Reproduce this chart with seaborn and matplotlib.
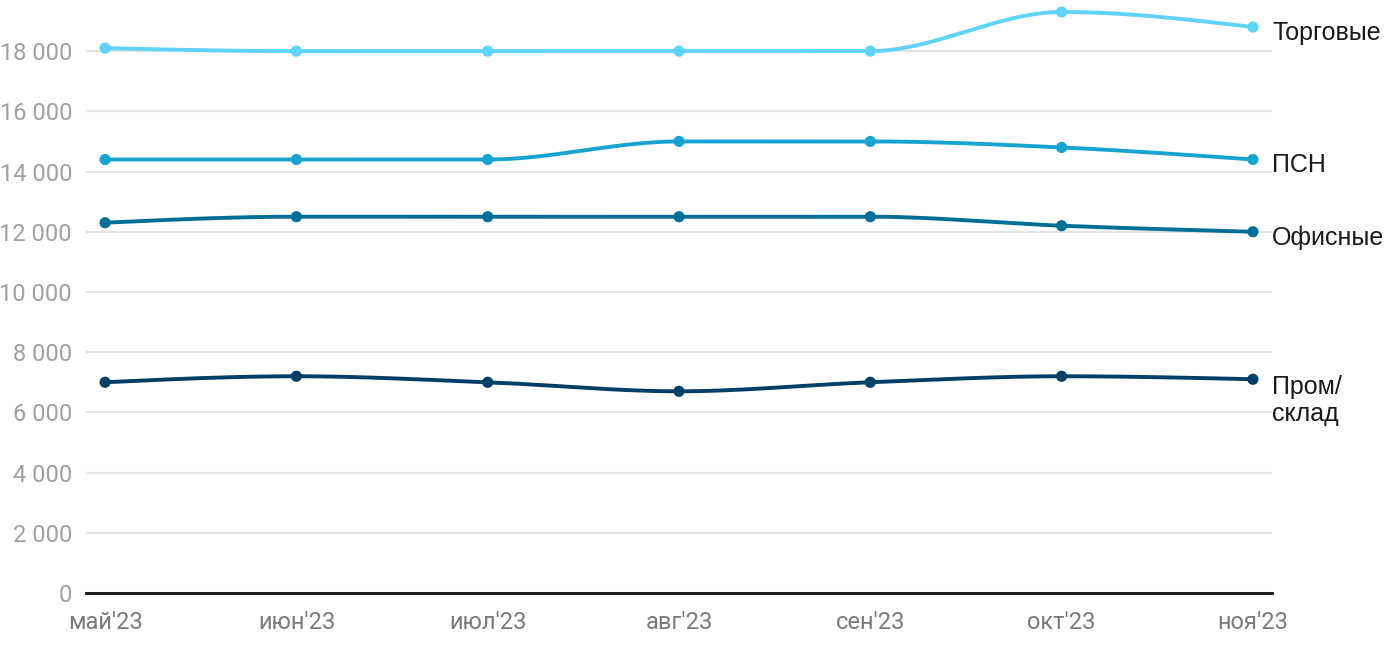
import numpy as np
import pandas as pd
import seaborn as sns
import matplotlib.pyplot as plt
from matplotlib.ticker import FuncFormatter, MultipleLocator

# =========================
#       DATA
# =========================
months = ["май'23", "июн'23", "июл'23", "авг'23", "сен'23", "окт'23", "ноя'23"]
trade = [18100, 18000, 18000, 18000, 18000, 19300, 18800]
psn = [14400, 14400, 14400, 15000, 15000, 14800, 14400]
office = [12300, 12500, 12500, 12500, 12500, 12200, 12000]
industrial = [7000, 7200, 7000, 6700, 7000, 7200, 7100]

series_names = ["Торговые", "ПСН", "Офисные", "Пром/\nсклад"]
series_values = [trade, psn, office, industrial]
series_colors = ["#5fd3fa", "#17a4d1", "#006f98", "#003f66"]


# =========================
#   Monotone smoothing (d3 monotoneX style)
# =========================
def monotone_curve(x, y, n=40):
    x = np.asarray(x, float)
    y = np.asarray(y, float)
    h = np.diff(x)
    s = np.diff(y) / h
    t = np.zeros_like(y)
    for i in range(1, len(y) - 1):
        p = (s[i - 1] * h[i] + s[i] * h[i - 1]) / (h[i - 1] + h[i])
        t[i] = (np.sign(s[i - 1]) + np.sign(s[i])) * min(abs(s[i - 1]), abs(s[i]), 0.5 * abs(p))
    t[0] = (3 * s[0] - t[1]) / 2
    t[-1] = (3 * s[-1] - t[-2]) / 2
    xs, ys = [], []
    for i in range(len(h)):
        u = np.linspace(0, 1, n, endpoint=(i == len(h) - 1))
        h00 = 2 * u**3 - 3 * u**2 + 1
        h10 = u**3 - 2 * u**2 + u
        h01 = -2 * u**3 + 3 * u**2
        h11 = u**3 - u**2
        xs.append(x[i] + u * h[i])
        ys.append(h00 * y[i] + h10 * h[i] * t[i] + h01 * y[i + 1] + h11 * h[i] * t[i + 1])
    return np.concatenate(xs), np.concatenate(ys)


# Long-form tables for seaborn
points = pd.DataFrame({
    "x": np.tile(np.arange(len(months)), len(series_names)),
    "value": np.concatenate(series_values),
    "series": np.repeat(series_names, len(months)),
})

curves = []
for name, vals in zip(series_names, series_values):
    cx, cy = monotone_curve(np.arange(len(months)), vals)
    curves.append(pd.DataFrame({"x": cx, "value": cy, "series": name}))
curves = pd.concat(curves, ignore_index=True)

palette = dict(zip(series_names, series_colors))

# =========================
#       PLOT
# =========================
sns.set_theme(style="white")
plt.rcParams["font.family"] = ["Roboto", "DejaVu Sans"]

fig = plt.figure(figsize=(14, 6.5), dpi=100)
ax = fig.add_axes([0.0614, 0.0877, 0.8472, 0.9031])

sns.lineplot(data=curves, x="x", y="value", hue="series", palette=palette,
             linewidth=2.8, legend=False, ax=ax, sort=False, estimator=None)
sns.scatterplot(data=points, x="x", y="value", hue="series", palette=palette,
                s=65, linewidth=0, legend=False, ax=ax, zorder=5)

ax.set_xlim(-0.1, len(months) - 0.9)
ax.set_ylim(0, 19500)
ax.yaxis.set_major_locator(MultipleLocator(2000))
ax.yaxis.set_major_formatter(FuncFormatter(lambda v, _: f"{v:,.0f}".replace(",", " ")))
ax.set_xticks(range(len(months)))
ax.set_xticklabels(months)
ax.set_xlabel("")
ax.set_ylabel("")

ax.grid(axis="y", color="#e3e3e3", linewidth=1.5)
ax.grid(axis="x", visible=False)
for side in ["top", "right", "left"]:
    ax.spines[side].set_visible(False)
ax.spines["bottom"].set_color("#111111")
ax.spines["bottom"].set_linewidth(2)
ax.set_axisbelow(True)

ax.tick_params(axis="y", length=0, pad=10, labelsize=17, labelcolor="#a0a0a0")
ax.tick_params(axis="x", length=0, pad=13, labelsize=17, labelcolor="#7a7a7a")

# Series labels at the end of each line
for name, vals in zip(series_names, series_values):
    va = "top" if "\n" in name else "center"
    dy = 3 if "\n" in name else -4
    ax.annotate(name, xy=(len(months) - 1, vals[-1]), xytext=(14, dy),
                textcoords="offset points", ha="left", va=va,
                fontsize=18, color="#1a1a1a", family=["Liberation Sans", "DejaVu Sans"],
                linespacing=1.15, annotation_clip=False)

fig.savefig("out.png", dpi=100)
